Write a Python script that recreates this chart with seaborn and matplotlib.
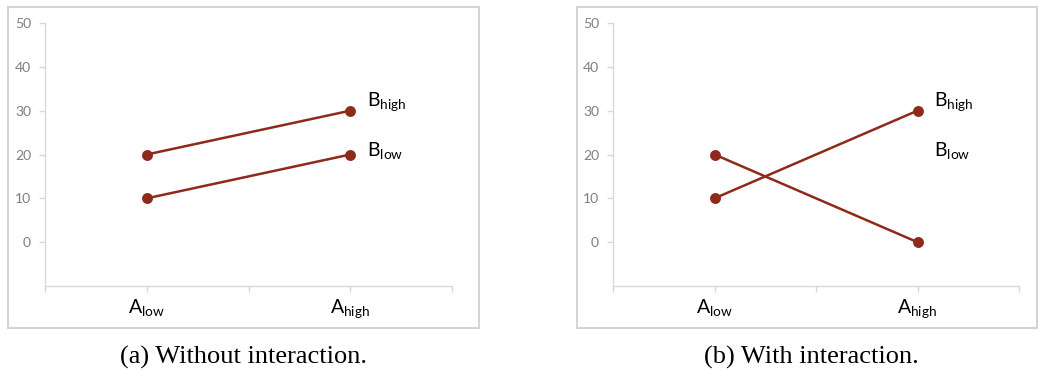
import matplotlib
matplotlib.use("Agg")
import matplotlib.pyplot as plt
import seaborn as sns
import pandas as pd
from matplotlib.patches import Rectangle
from matplotlib.ticker import FixedLocator

# ---- data ----
a_levels = ["low", "high"]
a_tick_labels = [r"$\mathrm{A}_{\mathrm{low}}$", r"$\mathrm{A}_{\mathrm{high}}$"]
b_levels = ["high", "low"]
b_text = [r"$\mathrm{B}_{\mathrm{high}}$", r"$\mathrm{B}_{\mathrm{low}}$"]
panel_a_b_high = [20, 30]
panel_a_b_low = [10, 20]
panel_b_b_high = [10, 30]
panel_b_b_low = [20, 0]
y_ticks = [0, 10, 20, 30, 40, 50]
captions = ["(a) Without interaction.", "(b) With interaction."]

LINE = "#8E2A1A"
GRID = "#d9d9d9"
TICKTXT = "#7f7f7f"

sns.set_theme(style="white")
plt.rcParams["font.family"] = ["Lato", "DejaVu Sans"]
plt.rcParams["mathtext.fontset"] = "custom"
plt.rcParams["mathtext.rm"] = "Lato"
plt.rcParams["mathtext.it"] = "Lato:italic"
plt.rcParams["mathtext.bf"] = "Lato:bold"

W, H = 1038, 372
fig = plt.figure(figsize=(W / 100, H / 100), dpi=100)


def fx(px):
    return px / W


def fy(py):
    return 1 - py / H


panels = [
    dict(high=panel_a_b_high, low=panel_a_b_low, ax_l=45, ax_r=452,
         box=(8, 7, 479, 328), lab_x=1.08, cap_x=244),
    dict(high=panel_b_b_high, low=panel_b_b_low, ax_l=613, ax_r=1019,
         box=(577, 7, 1037, 328), lab_x=1.08, cap_x=811),
]
label_y = [31.0, 19.6]

for i, p in enumerate(panels):
    x0, y0, x1, y1 = p["box"]
    fig.patches.append(Rectangle((fx(x0), fy(y1)), fx(x1 - x0), (y1 - y0) / H,
                                 transform=fig.transFigure, fill=False,
                                 edgecolor="#d4d4d4", linewidth=1.5))
    ax = fig.add_axes([fx(p["ax_l"]), fy(286), fx(p["ax_r"] - p["ax_l"]), (286 - 23) / H])
    df = pd.DataFrame({
        "A": a_levels * 2,
        "B": [b_levels[0]] * 2 + [b_levels[1]] * 2,
        "value": list(p["high"]) + list(p["low"]),
    })
    sns.pointplot(data=df, x="A", y="value", hue="B", order=a_levels,
                  hue_order=b_levels, palette=[LINE, LINE], errorbar=None,
                  markersize=6.5, linewidth=1.8, legend=False, ax=ax)
    ax.set_xlim(-0.5, 1.5)
    ax.set_ylim(-10, 50)
    ax.set_xlabel("")
    ax.set_ylabel("")
    ax.set_yticks(y_ticks)
    ax.set_yticklabels([str(v) for v in y_ticks])
    ax.set_xticks([0, 1])
    ax.set_xticklabels(a_tick_labels)
    ax.xaxis.set_minor_locator(FixedLocator([-0.5, 0.5, 1.5]))
    for s in ["top", "right"]:
        ax.spines[s].set_visible(False)
    for s in ["left", "bottom"]:
        ax.spines[s].set_color(GRID)
        ax.spines[s].set_linewidth(1.0)
    ax.tick_params(axis="y", which="major", left=True, length=4, width=1,
                   color=GRID, labelcolor=TICKTXT, labelsize=10, pad=6)
    ax.tick_params(axis="x", which="both", bottom=True, length=4, width=1,
                   color=GRID, labelcolor="black", labelsize=14, pad=4)
    ax.set_facecolor("none")
    for j, t in enumerate(b_text):
        ax.text(p["lab_x"], label_y[j], t, fontsize=14, color="black",
                ha="left", va="baseline")
    fig.text(fx(p["cap_x"]), fy(357), captions[i], ha="center", va="center",
             fontsize=19, family=["Liberation Serif"], color="black")

fig.savefig("out.png", dpi=100)
